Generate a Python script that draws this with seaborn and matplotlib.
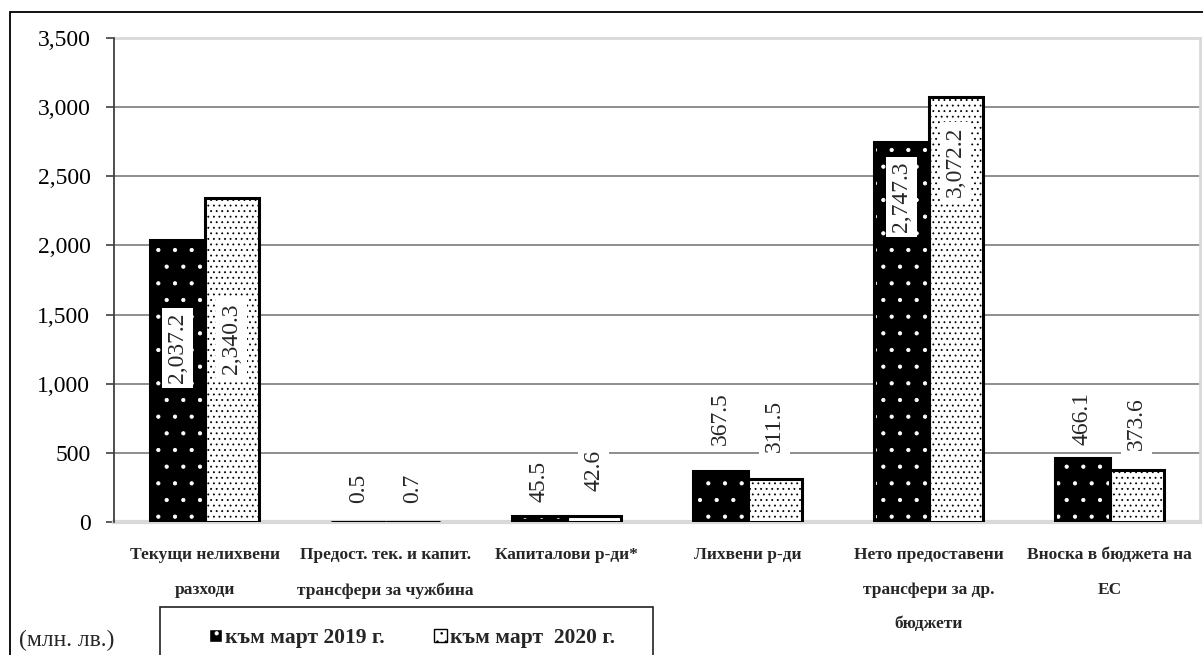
import pandas as pd
import seaborn as sns
import matplotlib.pyplot as plt
from matplotlib.patches import Rectangle, Patch

# data (млн. лв.)
categories = ["Текущи нелихвени\nразходи",
              "Предост. тек. и капит.\nтрансфери за чужбина",
              "Капиталови р-ди*",
              "Лихвени р-ди",
              "Нето предоставени\nтрансфери за др.\nбюджети",
              "Вноска в бюджета на\nЕС"]
periods = ["към март 2019 г.", "към март  2020 г."]
values_2019 = [2037.2, 0.5, 45.5, 367.5, 2747.3, 466.1]
values_2020 = [2340.3, 0.7, 42.6, 311.5, 3072.2, 373.6]

# where the value labels sit (label centre, in axis units) - layout only
label_y_2019 = [1258, 246, 290, 745, 2350, 745]
label_y_2020 = [1323, 246, 370, 695, 2603, 710]

df = pd.DataFrame({
    "cat": categories * 2,
    "period": [periods[0]] * 6 + [periods[1]] * 6,
    "value": values_2019 + values_2020,
})

sns.set_theme(style="white")
plt.rcParams["font.family"] = ["Liberation Serif", "DejaVu Serif"]
plt.rcParams["hatch.linewidth"] = 0.6

fig = plt.figure(figsize=(12.03, 6.55), dpi=100)
W, H = 1203, 655
ax = fig.add_axes([114 / W, 1 - 522 / H, (1200 - 114) / W, (522 - 38) / H])

sns.barplot(data=df, x="cat", y="value", hue="period", order=categories,
            hue_order=periods, palette=["black", "white"], width=0.6,
            edgecolor="black", linewidth=2.2, legend=False, ax=ax, zorder=3)

# 2019 bars: black with white dots, outline drawn on top
for p in ax.containers[0]:
    p.set_edgecolor("white")
    p.set_linewidth(0)
    p.set_hatch(".")
    ax.add_patch(Rectangle((p.get_x(), 0), p.get_width(), p.get_height(),
                           fill=False, edgecolor="black", lw=2.2, zorder=4))
# 2020 bars: white with dense black dots
for p in ax.containers[1]:
    p.set_hatch("...")

# value labels
for cont, vals, ys in [(ax.containers[0], values_2019, label_y_2019),
                       (ax.containers[1], values_2020, label_y_2020)]:
    for p, v, yy in zip(cont, vals, ys):
        ax.text(p.get_x() + p.get_width() / 2, yy, f"{v:,.1f}", rotation=90,
                ha="center", va="center", fontsize=17, zorder=6,
                bbox=dict(facecolor="white", edgecolor="none", pad=3.5))

ax.set_ylim(0, 3500)
ax.set_xlim(-0.5, 5.5)
ax.set_yticks(range(0, 3501, 500))
ax.set_yticklabels([f"{t:,}" for t in range(0, 3501, 500)], fontsize=17)
ax.tick_params(axis="y", which="both", left=True, length=6, width=1.2,
               color="#404040", pad=11, labelcolor="black")
ax.tick_params(axis="x", length=0, pad=18)
ax.set_xticks(range(len(categories)))
ax.set_xticklabels(categories, fontsize=12.5, fontweight="bold", linespacing=2.55,
                   va="top")
ax.set_xlabel("")
ax.set_ylabel("")

for t in range(500, 3001, 500):
    ax.axhline(t, color="#868686", lw=1.3, zorder=1)

ax.spines["left"].set_color("#404040")
ax.spines["left"].set_linewidth(1.3)
ax.spines["left"].set_zorder(5)
for s in ["top", "right", "bottom"]:
    ax.spines[s].set_color("#d9d9d9")
ax.spines["top"].set_linewidth(2.0)
ax.spines["right"].set_linewidth(2.0)
ax.spines["bottom"].set_linewidth(3.0)

# outer frame of the picture (right and bottom run off the image)
fig.patches.append(Rectangle((10 / W, -0.1), 1.5, 1 - 12 / H + 0.1,
                             transform=fig.transFigure, fill=False,
                             edgecolor="black", lw=1.3))
# legend frame (bottom cut off)
fig.patches.append(Rectangle((160 / W, -0.1), (653 - 160) / W, 1 - 607 / H + 0.1,
                             transform=fig.transFigure, fill=False,
                             edgecolor="#222222", lw=1.2))

handles = [Patch(facecolor="black", edgecolor="white", hatch="."),
           Patch(facecolor="white", edgecolor="black", hatch="..")]
fig.legend(handles, periods, loc="center", bbox_to_anchor=(412 / W, 1 - 638 / H),
           ncol=2, frameon=False, prop={"weight": "bold", "size": 15.5},
           handlelength=0.6, handleheight=0.6, handletextpad=0.15,
           columnspacing=2.3)

fig.text(19 / W, 1 - 640 / H, "(млн. лв.)", fontsize=17, va="center", ha="left")

fig.savefig("out.png", dpi=100)
